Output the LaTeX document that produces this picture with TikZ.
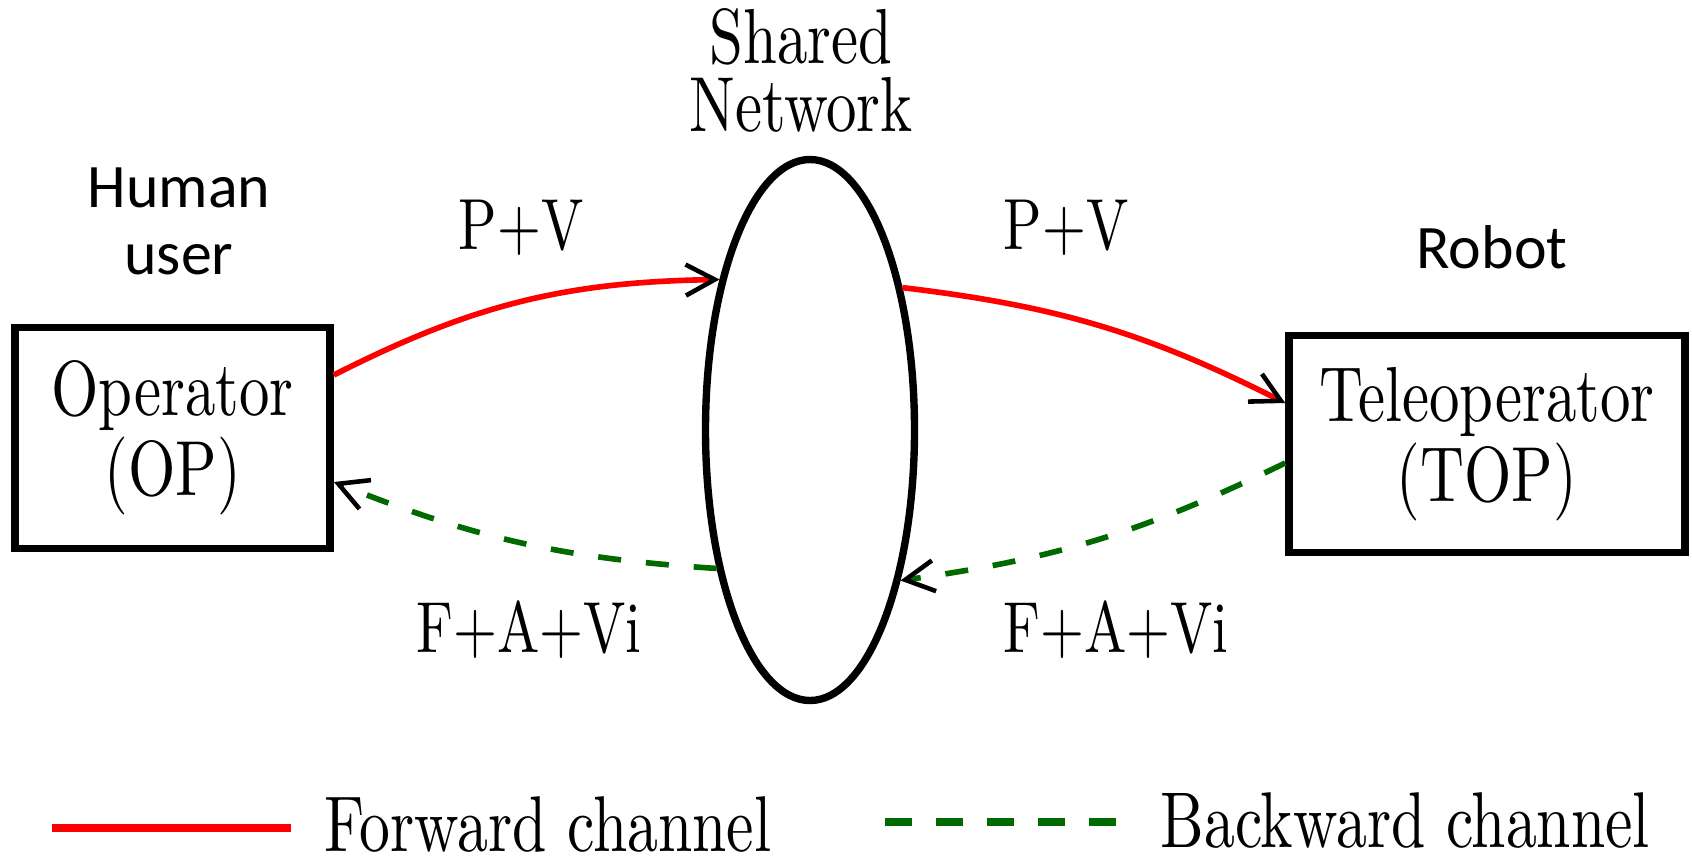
\documentclass[tikz,border=0pt]{standalone}
\usepackage{fontspec}
\newfontfamily\narrowrm{lmroman10-regular.otf}[FakeStretch=0.78]
\newfontfamily\calib{Carlito}
\usetikzlibrary{arrows.meta, positioning, shapes.geometric}
\definecolor{bwdgreen}{RGB}{0,105,0}

\begin{document}
\begin{tikzpicture}[
    box/.style={draw, rectangle, line width=2.1pt, inner sep=0pt, align=center, font=\narrowrm\fontsize{22.2}{22.8}\selectfont},
    netshape/.style={draw, ellipse, line width=2.1pt, inner sep=0pt, minimum width=2.09cm, minimum height=5.41cm},
    lbl/.style={inner sep=0pt, anchor=base, font=\narrowrm\fontsize{20.6}{22}\selectfont},
    sidelabel/.style={inner sep=0pt, align=center, font=\calib\fontsize{17.6}{19.3}\selectfont},
    legendtext/.style={inner sep=0pt, anchor=base west, font=\narrowrm\fontsize{22.5}{24}\selectfont},
    fwdarrow/.style={red, line width=1.6pt, -{Straight Barb[length=0.29cm, width=0.31cm, black, line width=1.3pt]}},
    bwdarrow/.style={bwdgreen, line width=1.6pt, dash pattern=on 0.23cm off 0.25cm, -{Straight Barb[length=0.29cm, width=0.31cm, black, line width=1.3pt]}}
]
\useasboundingbox (0,0) rectangle (16.92,8.59);

% Nodes
\node[netshape] (net) at (8.10,4.29) {};
\node[box, minimum width=3.15cm, minimum height=2.21cm, left=3.68cm of net, yshift=-0.08cm] (op) {Operator\\(OP)};
\node[box, minimum width=3.96cm, minimum height=2.17cm, right=3.67cm of net, yshift=-0.14cm] (top) {Teleoperator\\(TOP)};

% Labels
\node[inner sep=0pt, anchor=south, align=center, font=\narrowrm\fontsize{22.2}{19.4}\selectfont] (shared) at (8.01,7.26) {Shared\\Network};
\node[sidelabel, anchor=south] (human) at (1.79,5.83) {Human\\user};
\node[sidelabel, anchor=base] (robot) at (14.92,5.91) {Robot};
\node[lbl] (pvleft) at (5.21,6.10) {P+V};
\node[lbl] (pvright) at (10.66,6.10) {P+V};
\node[lbl] (faleft) at (5.29,2.07) {F+A+Vi};
\node[lbl] (faright) at (11.16,2.07) {F+A+Vi};

% Arrows
\draw[fwdarrow] ([yshift=0.63cm]op.east) to[bend left=13] (net.121);
\draw[fwdarrow] (net.57) to[bend left=10] ([yshift=0.41cm]top.west);
\draw[bwdarrow] ([yshift=-0.19cm]top.west) to[bend left=9] (net.-59);
\draw[bwdarrow] (net.236) to[bend left=9] ([yshift=-0.44cm]op.east);

% Legend
\coordinate (fwdA) at (0.52,0.31);
\coordinate (fwdB) at (2.91,0.31);
\draw[red, line width=2.5pt] (fwdA) -- (fwdB);
\node[legendtext] (fwdtext) at (3.24,0.08) {Forward channel};
\coordinate (bwdA) at (8.85,0.37);
\coordinate (bwdB) at (11.16,0.37);
\draw[bwdgreen, line width=2.5pt, dash pattern=on 0.27cm off 0.24cm] (bwdA) -- (bwdB);
\node[legendtext] (bwdtext) at (11.60,0.12) {Backward channel};

\end{tikzpicture}
\end{document}
